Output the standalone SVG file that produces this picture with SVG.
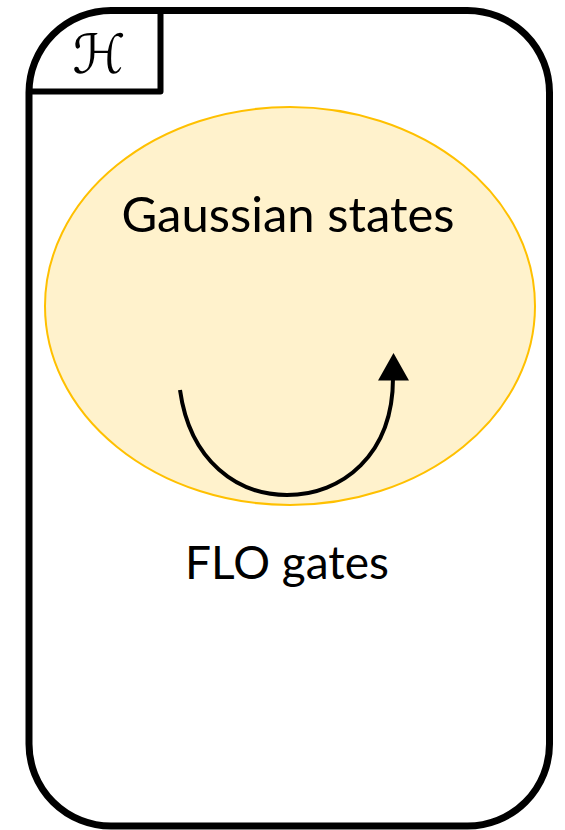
<svg xmlns="http://www.w3.org/2000/svg" width="565" height="830" viewBox="0 0 565 830">
  <style>
    .frame { fill: #ffffff; stroke: #000000; stroke-width: 7; }
    .tab { fill: none; stroke: #000000; stroke-width: 6; stroke-linejoin: round; }
    .set { fill: #FFF2CC; stroke: #FFC000; stroke-width: 2; }
    .label { font-family: Lato, "Open Sans", "Liberation Sans", sans-serif; fill: #000000; text-anchor: middle; }
    .sym { font-family: "DejaVu Serif", "DejaVu Sans", serif; font-style: italic; font-size: 54px; fill: #000000; text-anchor: middle; }
    .flow { fill: none; stroke: #000000; stroke-width: 4; }
  </style>

  <!-- Hilbert space frame -->
  <g id="hilbert-space">
    <rect class="frame" x="29" y="10.5" width="520.5" height="815.5" rx="82" ry="82"/>
    <path class="tab" d="M29,91.5 H160.5 V10.5"/>
    <text class="sym" x="99" y="73">ℋ</text>
  </g>

  <!-- Gaussian state set -->
  <g id="gaussian-states">
    <ellipse class="set" cx="290" cy="306" rx="245" ry="199"/>
    <text class="label" x="288" y="232" font-size="49">Gaussian states</text>
  </g>

  <!-- FLO gate label -->
  <g id="flo-gates">
    <text class="label" x="287" y="579" font-size="46">FLO gates</text>
  </g>

  <!-- FLO gates map Gaussian states to Gaussian states -->
  <g id="connectors">
    <path class="flow" d="M180,390 C190,462 238,495 287,495 C342,495 393,455 393,378"/>
    <polygon points="393.5,353 378,380.5 409,380.5" fill="#000000"/>
  </g>
</svg>
